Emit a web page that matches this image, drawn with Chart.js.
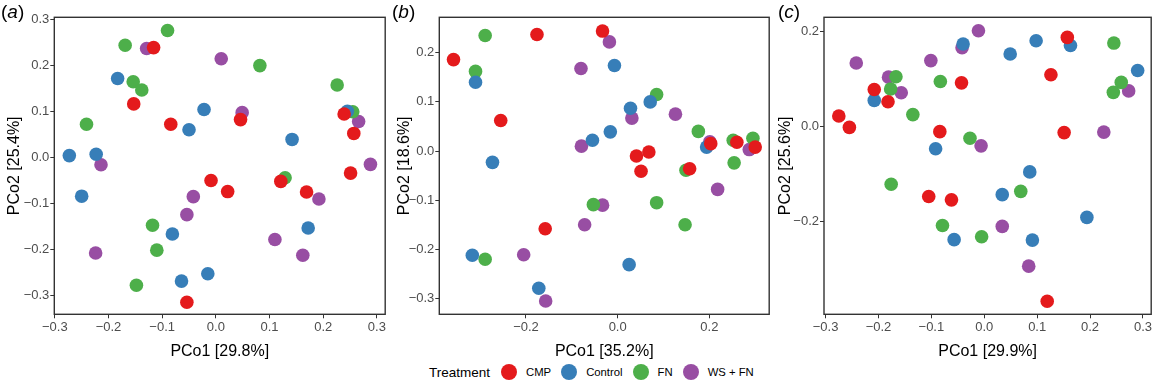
<!DOCTYPE html>
<html>
<head>
<meta charset="utf-8">
<title>PCoA panels</title>
<script src="https://cdn.jsdelivr.net/npm/chart.js@4.4.1/dist/chart.umd.min.js"></script>
<style>
  body { margin: 0; width: 1158px; height: 383px; background: #fff; position: relative; overflow: hidden;
         font-family: "Liberation Sans", Arial, sans-serif; }
  canvas { position: absolute; top: 0; }
  .tag { position: absolute; top: 0; font-size: 19px; line-height: 24px; color: #000; }
  .legend { position: absolute; left: 429px; top: 363px; height: 18px; display: flex; align-items: center; color: #000; }
  .legend .title { font-size: 13.5px; margin-right: 11px; }
  .legend .dot { width: 16px; height: 16px; border-radius: 50%; margin-right: 9px; }
  .legend .lab { font-size: 11.3px; margin-right: 10px; }
</style>
</head>
<body>
<canvas id="pa" width="392" height="362" style="left:0px"></canvas>
<canvas id="pb" width="384" height="362" style="left:392px"></canvas>
<canvas id="pc" width="382" height="362" style="left:776px"></canvas>
<div class="tag" style="left:1px">(<i>a</i>)</div>
<div class="tag" style="left:392px">(<i>b</i>)</div>
<div class="tag" style="left:778px">(<i>c</i>)</div>
<div class="legend" id="legend"><span class="title">Treatment</span></div>
<script>
  const groups = ['CMP', 'Control', 'FN', 'WS + FN'];
  const colours = ['#E41A1C', '#377EB8', '#4DAF4A', '#984EA3'];

  // panel (a)  [PCo1, PCo2]
  const aCMP = [[-0.116,0.238],[-0.153,0.116],[-0.084,0.072],[0.046,0.082],[0.239,0.094],[0.257,0.052],
                [0.251,-0.034],[-0.009,-0.050],[0.121,-0.052],[0.022,-0.074],[0.169,-0.075],[-0.054,-0.314]];
  const aControl = [[-0.183,0.171],[-0.050,0.060],[-0.273,0.004],[-0.223,0.007],[-0.022,0.104],[0.245,0.100],
                    [0.142,0.039],[0.172,-0.153],[-0.015,-0.252],[-0.250,-0.084],[-0.081,-0.166],[-0.064,-0.268]];
  const aFN = [[-0.090,0.275],[-0.169,0.243],[-0.154,0.164],[-0.138,0.146],[-0.241,0.072],[0.082,0.199],
               [0.226,0.157],[0.255,0.099],[0.129,-0.044],[-0.118,-0.147],[-0.110,-0.201],[-0.148,-0.277]];
  const aWSFN = [[-0.129,0.236],[-0.214,-0.016],[0.010,0.214],[0.049,0.097],[0.266,0.078],[0.288,-0.015],
                 [-0.042,-0.085],[-0.054,-0.124],[0.192,-0.090],[0.110,-0.178],[0.162,-0.212],[-0.224,-0.207]];

  // panel (b)
  const bCMP = [[-0.358,0.186],[-0.176,0.237],[-0.255,0.062],[-0.033,0.244],[0.203,0.015],[0.260,0.018],
                [0.300,0.008],[0.041,-0.010],[0.068,-0.002],[0.051,-0.041],[0.157,-0.036],[-0.158,-0.158]];
  const bControl = [[-0.310,0.140],[-0.273,-0.023],[-0.007,0.174],[0.071,0.100],[0.028,0.087],[-0.016,0.039],
                    [-0.055,0.022],[0.194,0.008],[0.025,-0.231],[-0.317,-0.212],[-0.172,-0.279]];
  const bFN = [[-0.289,0.235],[-0.310,0.162],[0.085,0.115],[0.176,0.040],[0.252,0.022],[0.295,0.026],
               [0.149,-0.039],[0.254,-0.024],[0.085,-0.105],[-0.053,-0.109],[0.147,-0.150],[-0.289,-0.220]];
  const bWSFN = [[-0.080,0.168],[-0.079,0.010],[-0.018,0.222],[0.031,0.067],[0.126,0.075],[0.201,0.019],
                 [0.287,0.003],[0.218,-0.078],[-0.033,-0.110],[-0.072,-0.150],[-0.205,-0.211],[-0.157,-0.305]];

  // panel (c)
  const cCMP = [[-0.208,0.078],[-0.182,0.052],[-0.043,0.092],[-0.275,0.022],[-0.255,-0.002],[-0.084,-0.011],
                [0.157,0.188],[0.126,0.109],[0.151,-0.013],[-0.105,-0.148],[-0.062,-0.155],[0.119,-0.369]];
  const cControl = [[-0.040,0.174],[-0.208,0.055],[-0.092,-0.047],[0.098,0.181],[0.163,0.171],[0.049,0.153],
                    [0.290,0.118],[0.086,-0.096],[0.034,-0.144],[0.194,-0.192],[-0.057,-0.239],[0.091,-0.240]];
  const cFN = [[-0.167,0.105],[-0.177,0.079],[-0.083,0.095],[-0.135,0.025],[-0.027,-0.025],[0.245,0.176],
               [0.259,0.093],[0.244,0.072],[-0.176,-0.122],[0.069,-0.137],[-0.079,-0.209],[-0.005,-0.233]];
  const cWSFN = [[-0.242,0.134],[-0.101,0.139],[-0.042,0.166],[-0.181,0.104],[-0.157,0.071],[-0.011,0.202],
                 [0.273,0.075],[0.226,-0.012],[-0.006,-0.041],[0.034,-0.211],[0.084,-0.295]];

  // tick labels
  const xTicksA = [-0.3, -0.2, -0.1, 0, 0.1, 0.2, 0.3];
  const yTicksA = [-0.3, -0.2, -0.1, 0, 0.1, 0.2, 0.3];
  const xTicksB = [-0.2, 0, 0.2];
  const yTicksB = [-0.3, -0.2, -0.1, 0, 0.1, 0.2];
  const xTicksC = [-0.3, -0.2, -0.1, 0, 0.1, 0.2, 0.3];
  const yTicksC = [-0.2, 0, 0.2];

  const fmt = v => (v < -1e-9 ? '\u2212' : '') + Math.abs(v).toFixed(1);

  // panel border drawn on top, like the ggplot frame
  const frame = {
    id: 'frame',
    afterDraw(chart) {
      const { ctx, chartArea: a } = chart;
      ctx.save();
      ctx.strokeStyle = '#333';
      ctx.lineWidth = 1.4;
      ctx.strokeRect(a.left, a.top, a.right - a.left, a.bottom - a.top);
      ctx.restore();
    }
  };

  function makePanel(id, sets, ticksX, ticksY, rangeX, rangeY, xTitle, yTitle, box) {
    const tickFont = { family: '"Liberation Sans", Arial, sans-serif', size: 13 };
    const titleFont = { family: '"Liberation Sans", Arial, sans-serif', size: 16 };
    new Chart(document.getElementById(id), {
      type: 'scatter',
      data: {
        datasets: sets.map((pts, i) => ({
          label: groups[i],
          data: pts.map(p => ({ x: p[0], y: p[1] })),
          backgroundColor: colours[i],
          borderWidth: 0,
          pointRadius: 6.8,
          pointHoverRadius: 6.8
        }))
      },
      options: {
        responsive: false,
        animation: false,
        devicePixelRatio: 1,
        layout: { padding: { top: 17.3, right: box.right, left: 0, bottom: 0 } },
        plugins: { legend: { display: false }, tooltip: { enabled: false } },
        scales: {
          x: {
            type: 'linear', min: rangeX[0], max: rangeX[1],
            afterBuildTicks: s => { s.ticks = ticksX.map(v => ({ value: v })); },
            afterFit: s => { s.height = 47.7; },
            grid: { drawOnChartArea: false, drawTicks: true, tickLength: 4, tickColor: '#333', tickWidth: 1 },
            border: { display: false },
            ticks: { color: '#4D4D4D', font: tickFont, padding: 1, maxRotation: 0, callback: fmt },
            title: { display: true, text: xTitle, color: '#000', font: titleFont, padding: { top: 0, bottom: 1 } }
          },
          y: {
            type: 'linear', min: rangeY[0], max: rangeY[1],
            afterBuildTicks: s => { s.ticks = ticksY.map(v => ({ value: v })); },
            afterFit: s => { s.width = box.yw; },
            grid: { drawOnChartArea: false, drawTicks: true, tickLength: 4, tickColor: '#333', tickWidth: 1 },
            border: { display: false },
            ticks: { color: '#4D4D4D', font: tickFont, padding: 1, callback: fmt },
            title: { display: true, text: yTitle, color: '#000', font: titleFont, padding: { top: box.tp, bottom: 0 } }
          }
        }
      },
      plugins: [frame]
    });
  }

  makePanel('pa', [aCMP, aControl, aFN, aWSFN], xTicksA, yTicksA, [-0.301, 0.3155], [-0.34, 0.3037],
            'PCo1 [29.8%]', 'PCo2 [25.4%]', { yw: 54.3, tp: 5.4, right: 4.3 });
  makePanel('pb', [bCMP, bControl, bFN, bWSFN], xTicksB, yTicksB, [-0.389, 0.3305], [-0.332, 0.272],
            'PCo1 [35.2%]', 'PCo2 [18.6%]', { yw: 47.3, tp: 2.9, right: 4 });
  makePanel('pc', [cCMP, cControl, cFN, cWSFN], xTicksC, yTicksC, [-0.303, 0.3156], [-0.3966, 0.2304],
            'PCo1 [29.9%]', 'PCo2 [25.6%]', { yw: 48, tp: 0.4, right: 1.3 });

  // legend built from the same groups and colours
  const legend = document.getElementById('legend');
  groups.forEach((g, i) => {
    const dot = document.createElement('span');
    dot.className = 'dot';
    dot.style.background = colours[i];
    const lab = document.createElement('span');
    lab.className = 'lab';
    lab.textContent = g;
    legend.appendChild(dot);
    legend.appendChild(lab);
  });
</script>
</body>
</html>
